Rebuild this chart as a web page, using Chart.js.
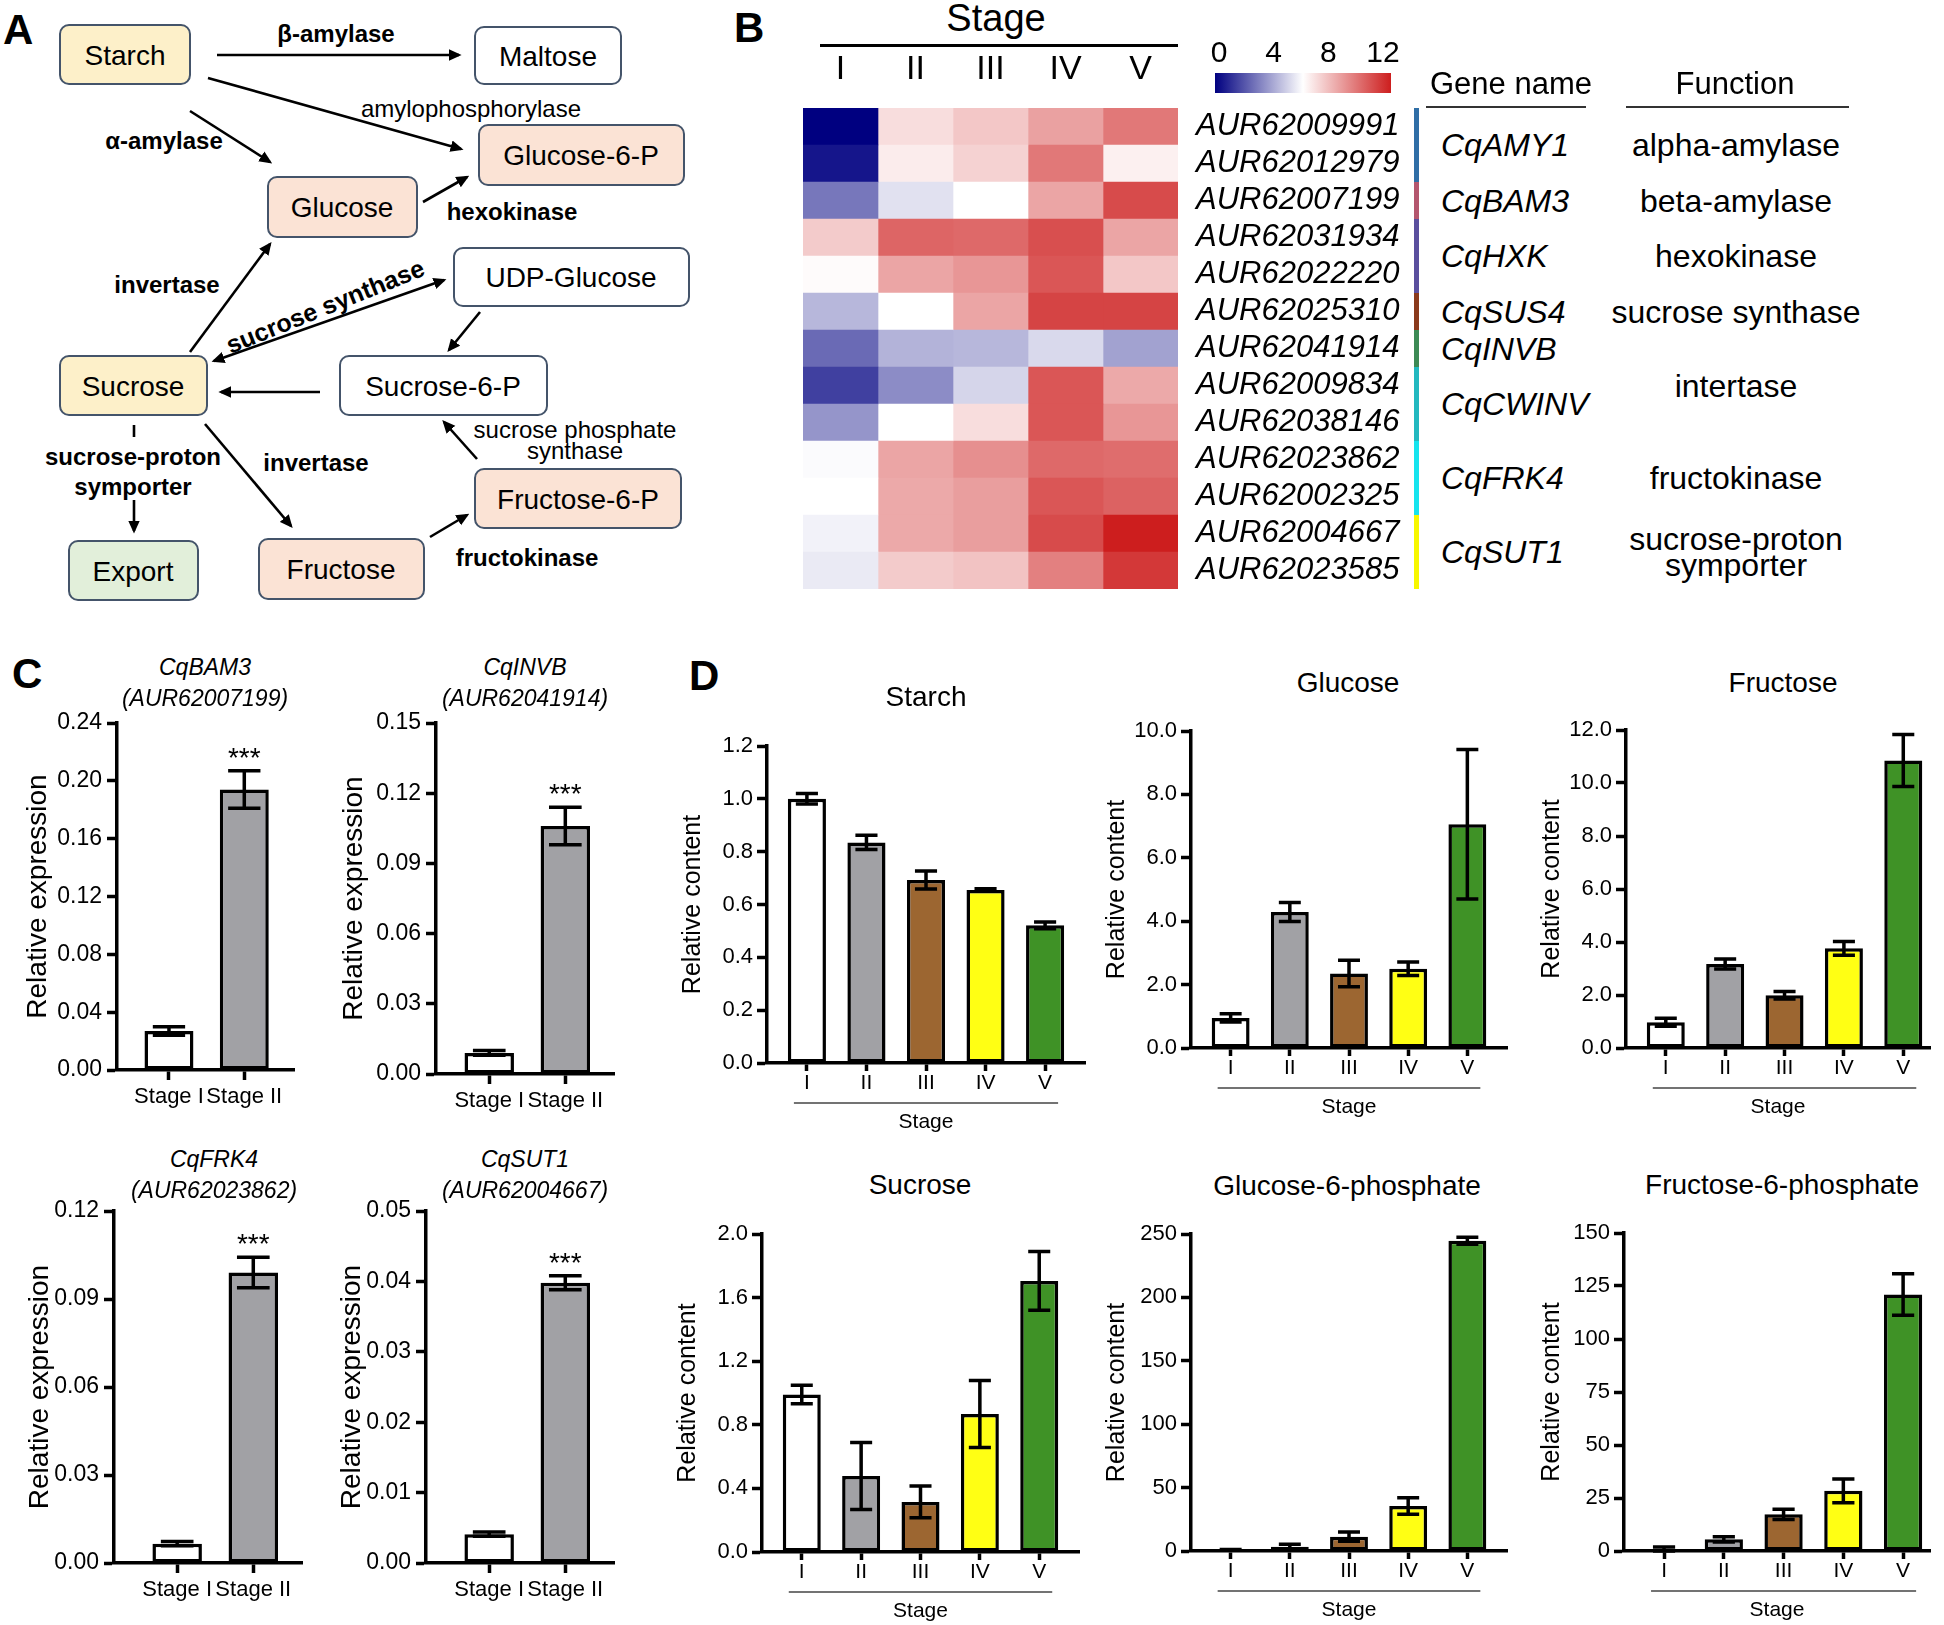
<!DOCTYPE html>
<html>
<head>
<meta charset="utf-8">
<script src="https://cdn.jsdelivr.net/npm/chart.js@4.4.1/dist/chart.umd.min.js"></script>
<style>
  body { margin: 0; background: #fff; }
  #page { position: relative; width: 1944px; height: 1625px; overflow: hidden; background: #fff;
          font-family: Arial, "Liberation Sans", sans-serif; color: #000; }
  .abs { position: absolute; white-space: nowrap; line-height: 1.15; }
  canvas { position: absolute; }
  .panel { position: absolute; font-size: 42px; font-weight: bold; }
  svg text { font-family: Arial, "Liberation Sans", sans-serif; }
</style>
</head>
<body>
<div id="page">
  <div class="panel" style="left:3px;top:6px">A</div>
  <div class="panel" style="left:734px;top:4px">B</div>
  <div class="panel" style="left:12px;top:650px">C</div>
  <div class="panel" style="left:689px;top:652px">D</div>

  <!-- panel A: pathway sketch -->
  <svg class="abs" style="left:0;top:0" width="720" height="640" xmlns="http://www.w3.org/2000/svg">
    <defs>
      <marker id="ah" viewBox="0 0 10 10" refX="8" refY="5" markerWidth="5" markerHeight="5" orient="auto-start-reverse">
        <path d="M0,0.5 L10,5 L0,9.5 z" fill="#000"/>
      </marker>
    </defs>
    <g stroke="#44546a" stroke-width="2">
      <rect x="60" y="25" width="130" height="59" rx="9" fill="#fdf0c9"/>
      <rect x="475" y="27" width="146" height="57" rx="9" fill="#fff"/>
      <rect x="479" y="125" width="205" height="60" rx="9" fill="#fbe3d5"/>
      <rect x="268" y="177" width="149" height="60" rx="9" fill="#fbe3d5"/>
      <rect x="454" y="248" width="235" height="58" rx="9" fill="#fff"/>
      <rect x="60" y="356" width="147" height="59" rx="9" fill="#fdf0c9"/>
      <rect x="340" y="356" width="207" height="59" rx="9" fill="#fff"/>
      <rect x="475" y="469" width="206" height="59" rx="9" fill="#fbe3d5"/>
      <rect x="69" y="541" width="129" height="59" rx="9" fill="#e2efda"/>
      <rect x="259" y="539" width="165" height="60" rx="9" fill="#fbe3d5"/>
    </g>
    <g font-size="28" text-anchor="middle" dominant-baseline="central">
      <text x="125" y="55">Starch</text>
      <text x="548" y="56">Maltose</text>
      <text x="581" y="155">Glucose-6-P</text>
      <text x="342" y="207">Glucose</text>
      <text x="571" y="277">UDP-Glucose</text>
      <text x="133" y="386">Sucrose</text>
      <text x="443" y="386">Sucrose-6-P</text>
      <text x="578" y="499">Fructose-6-P</text>
      <text x="133" y="571">Export</text>
      <text x="341" y="569">Fructose</text>
    </g>
    <g stroke="#000" stroke-width="2.6" fill="none">
      <line x1="217" y1="55" x2="459" y2="55" marker-end="url(#ah)"/>
      <line x1="208" y1="78" x2="461" y2="149" marker-end="url(#ah)"/>
      <line x1="190" y1="111" x2="270" y2="162" marker-end="url(#ah)"/>
      <line x1="423" y1="202" x2="467" y2="177" marker-end="url(#ah)"/>
      <line x1="190" y1="352" x2="270" y2="244" marker-end="url(#ah)"/>
      <line x1="214" y1="361" x2="444" y2="280" marker-start="url(#ah)" marker-end="url(#ah)"/>
      <line x1="480" y1="312" x2="449" y2="350" marker-end="url(#ah)"/>
      <line x1="320" y1="392" x2="221" y2="392" marker-end="url(#ah)"/>
      <line x1="477" y1="459" x2="444" y2="422" marker-end="url(#ah)"/>
      <line x1="205" y1="424" x2="291" y2="526" marker-end="url(#ah)"/>
      <line x1="134" y1="425" x2="134" y2="437"/>
      <line x1="134" y1="500" x2="134" y2="531" marker-end="url(#ah)"/>
      <line x1="430" y1="537" x2="467" y2="515" marker-end="url(#ah)"/>
    </g>
    <g font-size="24" text-anchor="middle" dominant-baseline="central">
      <text x="336" y="33" font-weight="bold">β-amylase</text>
      <text x="471" y="108">amylophosphorylase</text>
      <text x="164" y="140" font-weight="bold">α-amylase</text>
      <text x="512" y="211" font-weight="bold">hexokinase</text>
      <text x="167" y="284" font-weight="bold">invertase</text>
      <text x="325" y="306" font-weight="bold" font-size="25" transform="rotate(-22 325 306)">sucrose synthase</text>
      <text x="575" y="429">sucrose phosphate</text>
      <text x="575" y="450">synthase</text>
      <text x="316" y="462" font-weight="bold">invertase</text>
      <text x="133" y="456" font-weight="bold">sucrose-proton</text>
      <text x="133" y="486" font-weight="bold">symporter</text>
      <text x="527" y="557" font-weight="bold">fructokinase</text>
    </g>
  </svg>
</div>

<script>
// ---------- data ----------
const stages = ['I', 'II', 'III', 'IV', 'V'];
const qpcrStages = ['Stage I', 'Stage II'];

const geneIds = ['AUR62009991', 'AUR62012979', 'AUR62007199', 'AUR62031934', 'AUR62022220',
  'AUR62025310', 'AUR62041914', 'AUR62009834', 'AUR62038146', 'AUR62023862',
  'AUR62002325', 'AUR62004667', 'AUR62023585'];
// heatmap values (0-12 scale), one row per gene, columns = stage I..V
const heatValues = [
  [0.0, 6.9, 7.5, 8.5, 9.6],
  [0.5, 6.5, 7.2, 9.6, 6.4],
  [2.8, 5.3, 6.0, 8.4, 10.8],
  [7.4, 10.1, 10.0, 10.7, 8.4],
  [6.1, 8.4, 8.8, 10.5, 7.5],
  [4.3, 6.0, 8.4, 11.0, 11.0],
  [2.5, 4.2, 4.3, 5.1, 3.8],
  [1.5, 3.3, 5.0, 10.5, 8.3],
  [3.5, 6.0, 6.9, 10.5, 8.8],
  [5.9, 8.4, 9.0, 10.0, 9.9],
  [6.0, 8.3, 8.6, 10.5, 10.2],
  [5.7, 8.3, 8.6, 10.8, 12.0],
  [5.5, 7.4, 7.6, 9.4, 11.3]
];
const colorbarTicks = [0, 4, 8, 12];
const groupNames = ['CqAMY1', 'CqBAM3', 'CqHXK', 'CqSUS4', 'CqINVB', 'CqCWINV', 'CqFRK4', 'CqSUT1'];
const groupRows = [[0, 1], [2, 2], [3, 4], [5, 5], [6, 6], [7, 8], [9, 10], [11, 12]];
const functionNames = ['alpha-amylase', 'beta-amylase', 'hexokinase', 'sucrose synthase',
  'intertase', 'fructokinase', 'sucrose-proton\nsymporter'];
const functionRows = [[0, 1], [2, 2], [3, 4], [5, 5], [6, 8], [9, 10], [11, 12]];

// panel C: relative expression, mean and sd (Stage I, Stage II)
const bam3Mean = [0.027, 0.194],  bam3Sd = [0.003, 0.013];
const invbMean = [0.009, 0.106],  invbSd = [0.001, 0.008];
const frk4Mean = [0.0066, 0.099], frk4Sd = [0.0007, 0.0052];
const sut1Mean = [0.0041, 0.0398], sut1Sd = [0.0003, 0.001];

// panel D: relative content, mean and sd (stage I..V)
const starchMean = [1.00, 0.835, 0.693, 0.655, 0.521];
const starchSd   = [0.02, 0.027, 0.034, 0.005, 0.013];
const glucoseMean = [0.95, 4.29, 2.35, 2.50, 7.06];
const glucoseSd   = [0.13, 0.30, 0.42, 0.21, 2.36];
const fructoseMean = [0.97, 3.17, 1.99, 3.76, 10.85];
const fructoseSd   = [0.15, 0.19, 0.14, 0.26, 0.98];
const sucroseMean = [0.99, 0.478, 0.315, 0.868, 1.705];
const sucroseSd   = [0.058, 0.21, 0.10, 0.21, 0.185];
const g6pMean = [0.8, 3.4, 11.3, 35.5, 244.7];
const g6pSd   = [0.3, 2.0, 3.6, 6.5, 2.8];
const f6pMean = [0.9, 5.5, 17.3, 28.4, 121.0];
const f6pSd   = [1.0, 1.2, 2.4, 5.6, 9.8];

// ---------- helpers ----------
const page = document.getElementById('page');
const FONT = 'Arial, "Liberation Sans", sans-serif';
Chart.defaults.font.family = FONT;
Chart.defaults.color = '#000';

const stageColors = ['#ffffff', '#a1a1a5', '#9c6631', '#ffff14', '#3f9226'];
const groupColors = ['#2f6ea6', '#b4566e', '#5a4f9e', '#8a3a1c', '#3c8a55', '#22b8bf', '#15e4ee', '#f7f700'];

function put(x, y, text, css) {
  const d = document.createElement('div');
  d.className = 'abs';
  d.textContent = text;
  d.style.cssText += 'left:' + x + 'px;top:' + y + 'px;transform:translate(-50%,-50%);' + (css || '');
  page.appendChild(d);
  return d;
}

function canvasAt(left, top, w, h) {
  const c = document.createElement('canvas');
  c.width = w; c.height = h;
  c.style.left = left + 'px'; c.style.top = top + 'px';
  c.style.width = w + 'px'; c.style.height = h + 'px';
  page.appendChild(c);
  return c;
}

function fixSize(w, h) {
  return s => {
    if (w != null) s.width = w;
    if (h != null) s.height = h;
    s.paddingTop = s.paddingBottom = s.paddingLeft = s.paddingRight = 0;
  };
}

function heatColor(v) {
  const t = Math.max(0, Math.min(1, v / 12));
  let r, g, b;
  if (t < 0.5) {
    const s = t / 0.5;
    r = 255 * s; g = 255 * s; b = 128 + 127 * s;
  } else {
    const s = (t - 0.5) / 0.5;
    r = 255 - 50 * s; g = 255 - 225 * s; b = 255 - 225 * s;
  }
  return 'rgb(' + Math.round(r) + ',' + Math.round(g) + ',' + Math.round(b) + ')';
}

// error bars, significance stars, stage underline
const errorBars = {
  id: 'errorBars',
  afterDatasetsDraw(chart) {
    const ds = chart.data.datasets[0];
    if (!ds.sd) return;
    const ctx = chart.ctx, y = chart.scales.y;
    const meta = chart.getDatasetMeta(0);
    ctx.save();
    ctx.strokeStyle = '#000';
    ctx.lineWidth = 3.5;
    ds.data.forEach((pt, i) => {
      const bar = meta.data[i];
      const half = bar.width * ds.cap / 2;
      const yt = y.getPixelForValue(pt.y + ds.sd[i]);
      const yb = y.getPixelForValue(Math.max(pt.y - ds.sd[i], 0));
      ctx.beginPath();
      ctx.moveTo(bar.x, yt); ctx.lineTo(bar.x, yb);
      ctx.moveTo(bar.x - half, yt); ctx.lineTo(bar.x + half, yt);
      ctx.moveTo(bar.x - half, yb); ctx.lineTo(bar.x + half, yb);
      ctx.stroke();
    });
    if (ds.stars) {
      const i = ds.data.length - 1;
      const bar = meta.data[i];
      ctx.fillStyle = '#000';
      ctx.font = '28px ' + FONT;
      ctx.textAlign = 'center';
      ctx.textBaseline = 'alphabetic';
      ctx.fillText('***', bar.x, y.getPixelForValue(ds.data[i].y + ds.sd[i]) - 4);
    }
    if (ds.stageLine) {
      const x = chart.scales.x, n = ds.data.length;
      const yy = chart.chartArea.bottom + 40;
      ctx.strokeStyle = '#444';
      ctx.lineWidth = 1.5;
      ctx.beginPath();
      ctx.moveTo(x.getPixelForValue(0) - 13, yy);
      ctx.lineTo(x.getPixelForValue(n - 1) + 13, yy);
      ctx.stroke();
    }
    ctx.restore();
  }
};
Chart.register(errorBars);

function barChart(p) {
  const left = Math.round(p.yl - p.ylFont * 0.6);
  const top = p.T - 20;
  const w = p.R + 4 - left;
  const h = p.B + p.xh - top;
  const cv = canvasAt(left, top, w, h);
  new Chart(cv, {
    type: 'bar',
    data: {
      datasets: [{
        data: p.mean.map((v, i) => ({ x: i, y: v })),
        sd: p.sd, cap: p.cap, stars: p.stars, stageLine: p.stageLine,
        backgroundColor: p.colors,
        borderColor: '#000',
        borderWidth: 3.5,
        borderSkipped: false,
        categoryPercentage: p.barFrac,
        barPercentage: 1
      }]
    },
    options: {
      responsive: false, animation: false, devicePixelRatio: 1,
      layout: { padding: { top: 20, right: 4, bottom: 0, left: 0 } },
      plugins: { legend: { display: false }, tooltip: { enabled: false } },
      scales: {
        x: {
          type: 'linear', min: p.xmin, max: p.xmax, offset: false, bounds: 'data',
          afterBuildTicks: s => { s.ticks = p.cats.map((_, i) => ({ value: i })); },
          afterFit: fixSize(null, p.xh),
          ticks: { callback: v => p.cats[v], autoSkip: false, maxRotation: 0,
                   font: { size: p.xFont }, color: '#000', padding: p.xPad },
          grid: { display: true, offset: false, drawOnChartArea: false, drawTicks: true,
                  tickLength: p.xTick, tickWidth: 3.5, tickColor: '#000' },
          border: { display: true, color: '#000', width: 3.5 },
          title: { display: !!p.xTitle, text: p.xTitle || '', font: { size: p.xFont },
                   color: '#000', padding: 0 }
        },
        y: {
          min: 0, max: p.max,
          afterFit: fixSize(p.L - left, null),
          ticks: { stepSize: p.step, callback: v => v.toFixed(p.dec),
                   font: { size: p.yFont }, color: '#000', padding: p.yPad },
          grid: { display: true, drawOnChartArea: false, drawTicks: true,
                  tickLength: 10, tickWidth: 3.5, tickColor: '#000' },
          border: { display: true, color: '#000', width: 3.5 },
          title: { display: true, text: p.ylabel, font: { size: p.ylFont }, color: '#000', padding: 0 }
        }
      }
    }
  });
}

// ---------- panel B: heatmap ----------
(function () {
  const HL = 803, HT = 108, HW = 375, HH = 481, XH = 58, YW = 247;
  const cv = canvasAt(HL, HT - XH, HW + YW, HH + XH);
  const rowH = HH / geneIds.length;
  const groupBars = {
    id: 'groupBars',
    afterDraw(chart) {
      const ctx = chart.ctx, y = chart.scales.y;
      groupRows.forEach((r, g) => {
        const y0 = y.getPixelForValue(r[0]) - rowH / 2;
        const y1 = y.getPixelForValue(r[1]) + rowH / 2;
        ctx.fillStyle = groupColors[g];
        ctx.fillRect(chart.chartArea.right + 236, y0, 5, y1 - y0);
      });
    }
  };
  new Chart(cv, {
    type: 'bar',
    data: {
      labels: geneIds,
      datasets: stages.map((s, c) => ({
        data: geneIds.map(() => [c, c + 1]),
        backgroundColor: heatValues.map(row => heatColor(row[c])),
        borderWidth: 0,
        grouped: false,
        categoryPercentage: 1,
        barPercentage: 1
      }))
    },
    options: {
      indexAxis: 'y',
      responsive: false, animation: false, devicePixelRatio: 1,
      layout: { padding: 0 },
      plugins: { legend: { display: false }, tooltip: { enabled: false } },
      scales: {
        x: {
          type: 'linear', position: 'top', min: 0, max: stages.length, offset: false,
          afterBuildTicks: s => { s.ticks = stages.map((_, i) => ({ value: i + 0.5 })); },
          afterFit: fixSize(null, XH),
          ticks: { callback: v => stages[Math.floor(v)], autoSkip: false, maxRotation: 0,
                   font: { size: 34 }, color: '#000', padding: 10 },
          grid: { display: false },
          border: { display: false }
        },
        y: {
          position: 'right',
          afterFit: fixSize(YW, null),
          ticks: { font: { size: 31, style: 'italic' }, color: '#000', padding: 10,
                   crossAlign: 'near', autoSkip: false },
          grid: { display: false },
          border: { display: false }
        }
      }
    },
    plugins: [groupBars]
  });

  put(996, 19, 'Stage', 'font-size:38px;');
  const ln = document.createElement('div');
  ln.className = 'abs';
  ln.style.cssText = 'left:820px;top:44px;width:358px;height:3px;background:#000;';
  page.appendChild(ln);

  // colour key
  const key = document.createElement('div');
  key.className = 'abs';
  key.style.cssText = 'left:1215px;top:73px;width:176px;height:20px;background:linear-gradient(to right,' +
    heatColor(0) + ',' + heatColor(6) + ',' + heatColor(12) + ');';
  page.appendChild(key);
  colorbarTicks.forEach(v => put(1219 + v / 12 * 164, 52, String(v), 'font-size:30px;'));

  put(1511, 84, 'Gene name', 'font-size:31px;');
  put(1735, 84, 'Function', 'font-size:31px;');
  [[1426, 160], [1626, 223]].forEach(([x, w]) => {
    const u = document.createElement('div');
    u.className = 'abs';
    u.style.cssText = 'left:' + x + 'px;top:106px;width:' + w + 'px;height:2px;background:#333;';
    page.appendChild(u);
  });

  groupNames.forEach((name, g) => {
    const r = groupRows[g];
    const yc = HT + (r[0] + r[1] + 1) / 2 * rowH;
    put(1441, yc, name, 'font-size:32px;font-style:italic;transform:translate(0,-50%);');
  });
  functionNames.forEach((name, f) => {
    const r = functionRows[f];
    const yc = HT + (r[0] + r[1] + 1) / 2 * rowH;
    put(1736, yc, name, 'font-size:32px;text-align:center;white-space:pre;line-height:0.82;');
  });
})();

// ---------- panel C ----------
const cCommon = { cats: qpcrStages, colors: ['#ffffff', '#a1a1a5'], cap: 0.66, stars: true, barFrac: 0.65,
  ylabel: 'Relative expression', ylFont: 28, yFont: 23, yPad: 5, xFont: 22, xTick: 10, xPad: 4, xh: 56, dec: 2 };
const cCharts = [
  { title: ['CqBAM3', '(AUR62007199)'], mean: bam3Mean, sd: bam3Sd, max: 0.24, step: 0.04,
    L: 117, R: 294, T: 723, B: 1070, yl: 38, tx: 205, ty: 667, xmin: -0.69, xmax: 1.66 },
  { title: ['CqINVB', '(AUR62041914)'], mean: invbMean, sd: invbSd, max: 0.15, step: 0.03,
    L: 436, R: 614, T: 723, B: 1074, yl: 354, tx: 525, ty: 667, xmin: -0.70, xmax: 1.64 },
  { title: ['CqFRK4', '(AUR62023862)'], mean: frk4Mean, sd: frk4Sd, max: 0.12, step: 0.03,
    L: 114, R: 302, T: 1211, B: 1563, yl: 40, tx: 214, ty: 1159, xmin: -0.83, xmax: 1.64 },
  { title: ['CqSUT1', '(AUR62004667)'], mean: sut1Mean, sd: sut1Sd, max: 0.05, step: 0.01,
    L: 426, R: 614, T: 1211, B: 1563, yl: 352, tx: 525, ty: 1159, xmin: -0.83, xmax: 1.64 }
];
cCharts.forEach(c => {
  barChart(Object.assign({}, cCommon, c));
  put(c.tx, c.ty, c.title[0], 'font-size:23px;font-style:italic;');
  put(c.tx, c.ty + 31, c.title[1], 'font-size:23px;font-style:italic;');
});

// ---------- panel D ----------
const dCommon = { cats: stages, colors: stageColors, cap: 0.58, barFrac: 0.64, stageLine: true,
  ylabel: 'Relative content', ylFont: 25, yFont: 22, yPad: 4, xFont: 21, xTick: 8, xPad: 0, xh: 72,
  xTitle: 'Stage', xmin: -0.67 };
const dCharts = [
  { title: 'Starch', mean: starchMean, sd: starchSd, max: 1.2, step: 0.2, dec: 1,
    L: 767, R: 1085, T: 746, B: 1063, yl: 693, tx: 926, ty: 697, xmax: 4.67 },
  { title: 'Glucose', mean: glucoseMean, sd: glucoseSd, max: 10, step: 2, dec: 1,
    L: 1191, R: 1507, T: 731, B: 1048, yl: 1117, tx: 1348, ty: 683, xmax: 4.67 },
  { title: 'Fructose', mean: fructoseMean, sd: fructoseSd, max: 12, step: 2, dec: 1,
    L: 1626, R: 1930, T: 730, B: 1048, yl: 1552, tx: 1783, ty: 683, xmax: 4.45 },
  { title: 'Sucrose', mean: sucroseMean, sd: sucroseSd, max: 2, step: 0.4, dec: 1,
    L: 762, R: 1079, T: 1234, B: 1552, yl: 688, tx: 920, ty: 1185, xmax: 4.67 },
  { title: 'Glucose-6-phosphate', mean: g6pMean, sd: g6pSd, max: 250, step: 50, dec: 0,
    L: 1191, R: 1507, T: 1234, B: 1551, yl: 1117, tx: 1347, ty: 1186, xmax: 4.67 },
  { title: 'Fructose-6-phosphate', mean: f6pMean, sd: f6pSd, max: 150, step: 25, dec: 0,
    L: 1624, R: 1930, T: 1233, B: 1551, yl: 1552, tx: 1782, ty: 1185, xmax: 4.45 }
];
dCharts.forEach(d => {
  barChart(Object.assign({}, dCommon, d));
  put(d.tx, d.ty, d.title, 'font-size:28px;');
});
</script>
</body>
</html>
